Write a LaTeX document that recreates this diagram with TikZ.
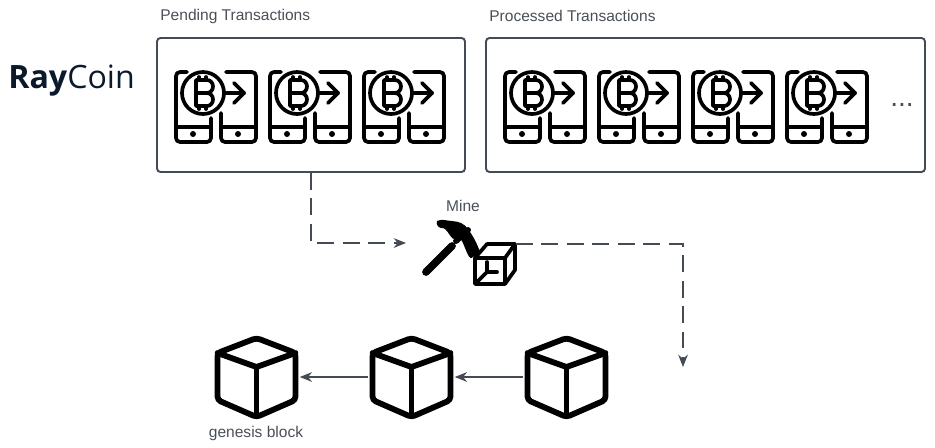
\documentclass[tikz,border=0pt]{standalone}
\usepackage{fontspec}
\setmainfont{Liberation Sans}
\newfontfamily\logofont{Open Sans}
\usetikzlibrary{arrows.meta}

\definecolor{linegray}{HTML}{454B54}
\definecolor{textgray}{HTML}{4A4F57}
\definecolor{logoink}{HTML}{0B1A2B}

\tikzset{
	panel/.style={draw=linegray, line width=1.1pt, rounded corners=2pt, inner sep=0pt},
	caption/.style={text=textgray, font=\fontsize{8.85}{11}\selectfont, inner sep=0pt},
	flow/.style={draw=linegray, line width=0.9pt, -{Stealth[length=7pt,width=5.5pt]}},
	dashflow/.style={flow, dash pattern=on 9.5pt off 5pt},
	blockslot/.style={inner sep=0pt, minimum width=48.8pt, minimum height=48pt},
	pics/paycard/.style={code={
		\begin{scope}[line width=2.1pt, line cap=round, line join=round]
		\draw (11, 0) -- ++(-7, 0) to[out=180, in=90] ++(-4, 4) -- ++(0, 62) to[out=-90, in=180] ++(4, 4)
			-- ++(27, 0) to[out=0, in=-90] ++(4, -4) -- ++(0, -20);
		\draw (0, 55) -- ++(35, 0);
		\draw (50, 0) -- ++(26, 0) to[out=0, in=90] ++(4, 4) -- ++(0, 62) to[out=-90, in=0] ++(-4, 4)
			-- ++(-27, 0) to[out=180, in=-90] ++(-4, -4) -- ++(0, -25);
		\draw (45, 55) -- ++(35, 0);
		\fill (17, 62) circle (3);
		\fill (62, 62) circle (3);
		\draw (27, 21) circle (21);
		\draw (48, 21) -- ++(20, 0);
		\draw (58, 11) -- ++(10, 10) -- ++(-10, 10);
		\draw (20, 8) -- ++(11, 0) to[out=0, in=90] ++(6, 6.5) to[out=-90, in=0] ++(-6, 6.5)
			-- ++(-11, 0) -- ++(0, -13);
		\draw (20, 21) -- ++(11, 0) to[out=0, in=90] ++(6, 6.5) to[out=-90, in=0] ++(-6, 6.5)
			-- ++(-11, 0) -- ++(0, -13);
		\draw (23, 8) -- ++(0, -3);
		\draw (30, 8) -- ++(0, -3);
		\draw (23, 34) -- ++(0, 3);
		\draw (30, 34) -- ++(0, 3);
		\end{scope}
	}},
	pics/chainblock/.style={code={
		\begin{scope}[line width=3.3pt, line join=round, line cap=round]
		\draw[rounded corners=2pt] (0, -39) -- ++(39, 15) -- ++(0, 47) -- ++(-39, 17) -- ++(-39, -17) -- ++(0, -47) -- cycle;
		\draw (-39, -24) -- ++(39, 14) -- ++(39, -14);
		\draw (0, -10) -- ++(0, 49);
		\end{scope}
	}},
}

\begin{document}
\begin{tikzpicture}[x=0.02cm, y=-0.02cm]
	\useasboundingbox (0, 0) rectangle (935, 447);

	\node[logoink, anchor=west, inner sep=0pt, font=\logofont\fontsize{18.3}{21}\selectfont] (raycoin) at (8, 81) {\textbf{Ray}Coin};

	\node[panel, minimum width=308*0.02cm, minimum height=134*0.02cm] (pending) at (311, 105) {};
	\node[panel, minimum width=439*0.02cm, minimum height=134*0.02cm] (processed) at (705.5, 105) {};
	\node[caption, anchor=west] (pendinglabel) at (160, 16) {Pending Transactions};
	\node[caption, anchor=west] (processedlabel) at (489, 16) {Processed Transactions};
	\node[caption, font=\fontsize{16}{18}\selectfont] (moredots) at (902, 105) {...};

	\foreach \x in {176, 270, 364}
		\pic at (\x, 72) {paycard};
	\foreach \x in {505, 599, 693, 787}
		\pic at (\x, 72) {paycard};

	\node[caption] (minelabel) at (463, 205.5) {Mine};
	\coordinate (minein) at (406, 243);
	\coordinate (mineout) at (516, 244);
	\coordinate (chainend) at (683, 367);

	\draw[line width=4.4pt, line cap=round] (426, 272) -- (452, 246);
	\fill (437, 221) to[out=25, in=178] (452, 221) to[out=-5, in=125] (468, 229) to[out=-55, in=110] (480, 252)
		-- (473, 257) to[out=-125, in=45] (456, 238) to[out=-135, in=15] (441, 228) to[out=170, in=-110] cycle;
	\draw[line width=3.4pt, line cap=round] (456, 241) -- (468, 230);
	\begin{scope}[line width=2.1pt, line join=round, line cap=round]
		\fill[white] (475, 258) -- ++(12, -14) -- ++(28, 0) -- ++(0, 26) -- ++(-10, 14) -- ++(-30, 0) -- cycle;
		\draw (475, 258) -- ++(30, 0) -- ++(0, 26) -- ++(-30, 0) -- cycle;
		\draw (475, 258) -- ++(12, -14) -- ++(28, 0) -- ++(0, 26) -- ++(-10, 14);
		\draw (505, 258) -- ++(10, -14);
		\draw (487, 262) -- ++(0, 10) -- ++(10, 0);
		\draw (487, 272) -- ++(-10, 10);
	\end{scope}

	\node[blockslot] (genesis) at (256.5, 377) {};
	\node[blockslot] (middleblock) at (411.5, 377) {};
	\node[blockslot] (lastblock) at (566.5, 377) {};
	\pic at (genesis) {chainblock};
	\pic at (middleblock) {chainblock};
	\pic at (lastblock) {chainblock};
	\node[caption] (genesislabel) at (256, 433.5) {genesis block};

	\draw[flow] (lastblock) -- (middleblock);
	\draw[flow] (middleblock) -- (genesis);
	\draw[dashflow] (pending.south) |- (minein);
	\draw[dashflow] (mineout) -| (chainend);
\end{tikzpicture}
\end{document}
